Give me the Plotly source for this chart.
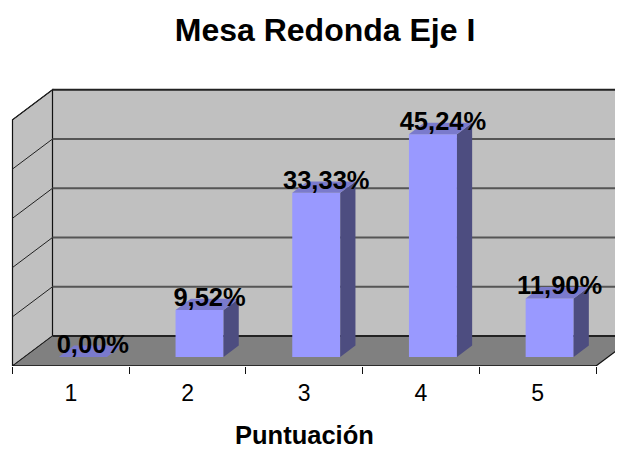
import plotly.graph_objects as go

categories = [1, 2, 3, 4, 5]
values = [0.0, 9.52, 33.33, 45.24, 11.90]
labels = ["0,00%", "9,52%", "33,33%", "45,24%", "11,90%"]
grid_values = [0, 10, 20, 30, 40, 50]

PAGE = 8                      # page margin of the browser, px
W, H = 623 - PAGE, 449 - PAGE
X0, X1 = 12.5 - PAGE, 596.0 - PAGE   # front edge of the floor, px
Y0 = 365.7 - PAGE             # front edge of the floor, px
PX_CAT = (X1 - X0) / 5
PX_VAL = 4.92
DX_PX, DY_PX = 40.0, 30.0     # depth of the box, px
DC = DX_PX / PX_CAT
DV = DY_PX / PX_VAL
BAR_W = 48.0 / PX_CAT
D_FRONT, D_BACK = 0.30, 0.68

WALL, FLOOR = "#C0C0C0", "#808080"
FRONT, SIDE, TOP = "#9999FF", "#4D4D80", "#7A7ACC"
FONT = "Liberation Sans, Arial, sans-serif"


def proj(c, v, d=0.0):
    return c + d * DC, v + d * DV


def path_of(points):
    return "M " + " L ".join(f"{x},{y}" for x, y in points) + " Z"


def shape_poly(points, fill, line=None, width=0):
    return dict(type="path", path=path_of(points), xref="x", yref="y", layer="below",
                fillcolor=fill, line=dict(color=line or fill, width=width))


def shape_seg(p, q, color, width):
    return dict(type="line", x0=p[0], y0=p[1], x1=q[0], y1=q[1], xref="x", yref="y",
                layer="below", line=dict(color=color, width=width))


def poly(points, fill):
    xs, ys = zip(*points)
    return go.Scatter(x=list(xs) + [xs[0]], y=list(ys) + [ys[0]], mode="lines", fill="toself",
                      fillcolor=fill, line=dict(color=fill, width=0),
                      hoverinfo="skip", showlegend=False)


cL, cR = categories[0] - 0.5, categories[-1] + 0.5
vT = grid_values[-1]
fig = go.Figure()

shapes = [
    shape_poly([proj(cL, 0, 1), proj(cR, 0, 1), proj(cR, vT, 1), proj(cL, vT, 1)], WALL),
    shape_poly([proj(cL, 0), proj(cL, 0, 1), proj(cL, vT, 1), proj(cL, vT)], WALL, "#111111", 1.2),
    shape_poly([proj(cL, 0), proj(cR, 0), proj(cR, 0, 1), proj(cL, 0, 1)], FLOOR),
]
for g in grid_values:
    shapes.append(shape_seg(proj(cL, g), proj(cL, g, 1), "#222222", 1))
    heavy = g in (0, vT)
    shapes.append(shape_seg(proj(cL, g, 1), proj(cR, g, 1), "#222222" if heavy else "#555555", 2))
shapes.append(shape_seg(proj(cL, 0), proj(cR, 0), "#111111", 1.6))
shapes.append(shape_seg(proj(cR, 0), proj(cR, 0, 1), "#111111", 1.2))

# front faces
base_x = [proj(c, 0, D_FRONT)[0] for c in categories]
base_y = proj(0, 0, D_FRONT)[1]
fig.add_trace(go.Bar(x=base_x, y=values, base=base_y, width=BAR_W,
                     marker=dict(color=FRONT, opacity=1, line=dict(width=0)),
                     hoverinfo="skip", showlegend=False))

# side and top faces
for c, v in zip(categories, values):
    l, r = c - BAR_W / 2, c + BAR_W / 2
    fig.add_trace(poly([proj(r, 0, D_FRONT), proj(r, 0, D_BACK), proj(r, v, D_BACK), proj(r, v, D_FRONT)], SIDE))
    fig.add_trace(poly([proj(l, v, D_FRONT), proj(r, v, D_FRONT), proj(r, v, D_BACK), proj(l, v, D_BACK)], TOP))

# data labels
lab = [proj(c, v, 0.55) for c, v in zip(categories, values)]
fig.add_trace(go.Scatter(
    x=[p[0] for p in lab], y=[p[1] + 0.6 for p in lab], mode="text", text=labels,
    textposition="middle center", cliponaxis=False,
    textfont=dict(family=FONT, size=25.5, color="#000000"), texttemplate="<b>%{text}</b>",
    hoverinfo="skip", showlegend=False,
))

fig.update_layout(
    width=W, height=H, autosize=False,
    margin=dict(l=0, r=0, t=0, b=H - Y0, pad=0),
    paper_bgcolor="white", plot_bgcolor="white", showlegend=False, barmode="group",
    shapes=shapes,
    title=dict(text="<b>Mesa Redonda Eje I</b>", x=(325 - PAGE) / W, xref="paper", xanchor="center",
               y=1 - (30 - PAGE) / H, yref="container", yanchor="middle",
               font=dict(family=FONT, size=32, color="#000000")),
    annotations=[dict(text="<b>Puntuación</b>", x=(cL + cR) / 2, xref="x", xanchor="center",
                      y=0, yref="paper", yanchor="middle", yshift=-69, showarrow=False, borderpad=0,
                      font=dict(family=FONT, size=25.5, color="#000000"))],
)
fig.update_xaxes(
    range=[cL - X0 / PX_CAT, cL + (W - X0) / PX_CAT],
    tickmode="array", tickvals=categories, ticktext=[str(c) for c in categories],
    ticks="", ticklabelstandoff=11, showgrid=False, zeroline=False, showline=False,
    tickfont=dict(family=FONT, size=23, color="#000000"),
    minor=dict(tickmode="array", tickvals=[c - 0.5 for c in categories] + [cR], ticks="outside",
               ticklen=7, tickwidth=1, tickcolor="#111111", showgrid=False),
)
fig.update_yaxes(range=[0, Y0 / PX_VAL], visible=False)

fig.write_html("out.html")
